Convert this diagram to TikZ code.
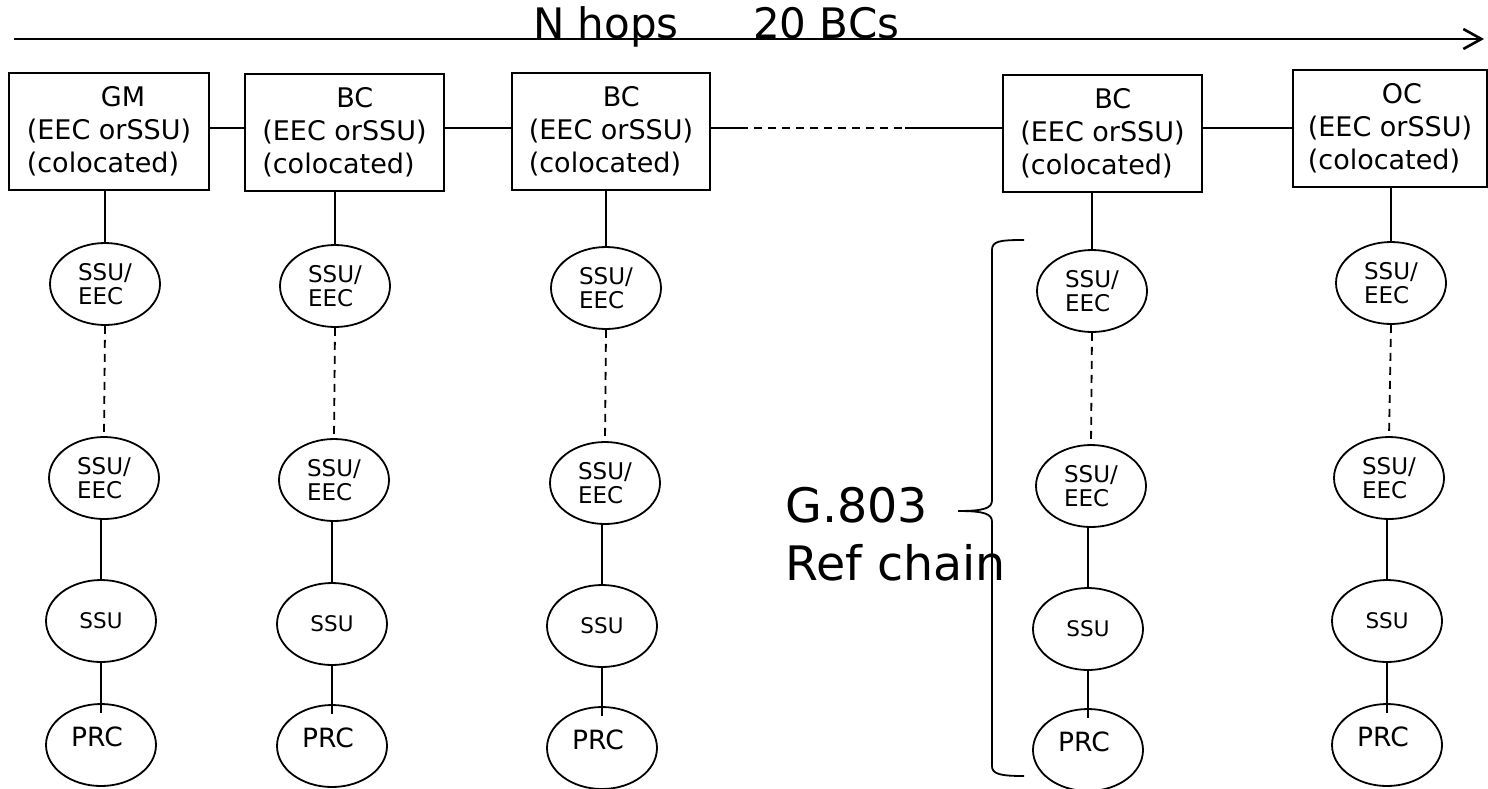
\documentclass[tikz,border=0pt]{standalone}
\usepackage{fontspec}
\setmainfont{DejaVu Sans}
\usetikzlibrary{arrows.meta,shapes.geometric}
\begin{document}
\begin{tikzpicture}[x=1pt,y=-1pt,
  box/.style={draw,line width=2pt,minimum width=200pt,minimum height=117pt,align=left,inner sep=0pt,font=\fontsize{27}{33}\selectfont},
  el/.style={draw,ellipse,line width=1.8pt,minimum width=110pt,minimum height=82pt,inner sep=0pt},
  two/.style={el,align=left,font=\fontsize{23}{24.5}\selectfont},
  ssu/.style={el,font=\fontsize{21.5}{24}\selectfont},
  prc/.style={font=\fontsize{26.5}{30}\selectfont,yshift=8pt,xshift=-4pt},
  link/.style={line width=1.8pt},
  dlink/.style={line width=1.8pt,dash pattern=on 8pt off 6pt},
]
\fill[white] (0,0) rectangle (1488,788);
\useasboundingbox (0,0) rectangle (1488,788);

% top arrow and titles
\coordinate (a0) at (14,39);
\coordinate (a1) at (1484,39);
\draw[line width=2.6pt,-{Straight Barb[length=18pt 0,width=20pt 0]}] (a0) -- (a1);
\node[anchor=base west,inner sep=0pt,font=\fontsize{42}{48}\selectfont] (nh) at (533,38) {N hops};
\node[anchor=base west,inner sep=0pt,font=\fontsize{42}{48}\selectfont] (bc) at (753,38) {20 BCs};

% boxes
\node[box] (B1) at (109,131.5) {\hspace*{74pt}GM\\(EEC orSSU)\\(colocated)};
\node[box,minimum width=199pt] (B2) at (344.5,132.5) {\hspace*{74pt}BC\\(EEC orSSU)\\(colocated)};
\node[box,minimum width=198pt] (B3) at (611,131) {\hspace*{74pt}BC\\(EEC orSSU)\\(colocated)};
\node[box,minimum width=199pt] (B4) at (1102.5,133.5) {\hspace*{74pt}BC\\(EEC orSSU)\\(colocated)};
\node[box,minimum width=194pt] (B5) at (1390,128.5) {\hspace*{74pt}OC\\(EEC orSSU)\\(colocated)};

\coordinate (h) at (0,128);
\coordinate (d1) at (740,128);
\coordinate (d2) at (905,128);
\draw[link] (B1.east |- h) -- (B2.west |- h);
\draw[link] (B2.east |- h) -- (B3.west |- h);
\draw[link] (B3.east |- h) -- (d1);
\draw[dlink] (d1) -- (d2);
\draw[link] (d2) -- (B4.west |- h);
\draw[link] (B4.east |- h) -- (B5.west |- h);

% columns
\node[two] (E11) at (105,284) {SSU/\\EEC};
\node[two] (E12) at (104,478) {SSU/\\EEC};
\node[ssu] (S1) at (101,621) {SSU};
\node[el,label={[prc]center:PRC}] (P1) at (101,745) {};

\node[two] (E21) at (335,286) {SSU/\\EEC};
\node[two] (E22) at (334,480) {SSU/\\EEC};
\node[ssu] (S2) at (332,624) {SSU};
\node[el,label={[prc]center:PRC}] (P2) at (332,746) {};

\node[two] (E31) at (606,288) {SSU/\\EEC};
\node[two] (E32) at (605,483) {SSU/\\EEC};
\node[ssu] (S3) at (602,626) {SSU};
\node[el,label={[prc]center:PRC}] (P3) at (602,748) {};

\node[two] (E41) at (1092,291) {SSU/\\EEC};
\node[two] (E42) at (1091,486) {SSU/\\EEC};
\node[ssu] (S4) at (1088,629) {SSU};
\node[el,label={[prc]center:PRC}] (P4) at (1088,750) {};

\node[two] (E51) at (1391,283) {SSU/\\EEC};
\node[two] (E52) at (1389,478) {SSU/\\EEC};
\node[ssu] (S5) at (1387,621) {SSU};
\node[el,label={[prc]center:PRC}] (P5) at (1387,745) {};

\foreach \i in {1,...,5}{
  \draw[link] (E\i1.north |- B\i.south) -- (E\i1.north);
  \draw[dlink] (E\i1.south) -- (E\i2.north);
  \draw[link] (E\i2.south -| S\i.north) -- (S\i.north);
  \draw[link] (S\i.south) -- ([yshift=-10pt]P\i.north);
}

% G.803 reference chain brace
\node[anchor=north west,inner sep=0pt,align=left,font=\fontsize{47.5}{58}\selectfont] (g) at (785,487) {G.803\\Ref chain};
\draw[line width=1.8pt] (1024,240) .. controls (1000,240) and (992,241) .. (992,250) -- (992,500)
  .. controls (992,508) and (985,511) .. (958,511)
  .. controls (985,511) and (992,514) .. (992,522) -- (992,766)
  .. controls (992,774) and (1000,776) .. (1024,776);
\end{tikzpicture}
\end{document}
